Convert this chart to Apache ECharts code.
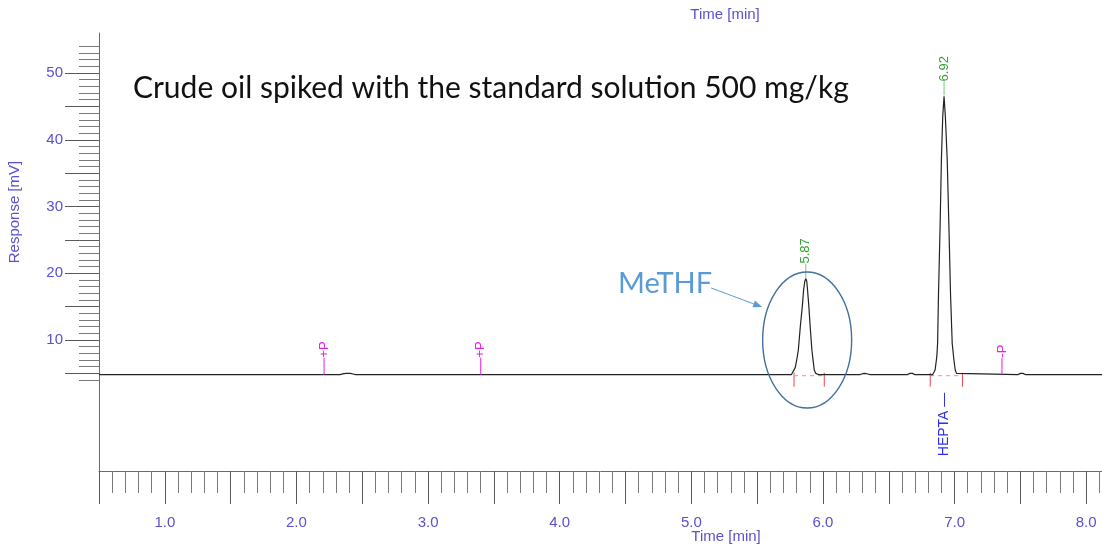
<!DOCTYPE html>
<html>
<head>
<meta charset="utf-8">
<script src="https://cdn.jsdelivr.net/npm/echarts@6/dist/echarts.min.js"></script>
<style>
  html, body { margin: 0; padding: 0; background: #fff; }
  #chart { width: 1102px; height: 550px; }
</style>
</head>
<body>
<div id="chart"></div>
<script>
// Chromatogram trace: retention time [min] and detector response [mV]
const traceTime = [
  0.50, 2.33, 2.36, 2.38, 2.41, 2.43, 2.45,
  5.760, 5.775, 5.790, 5.805, 5.813, 5.828, 5.843, 5.853, 5.862, 5.870, 5.877, 5.883, 5.893, 5.903, 5.916, 5.926, 5.934, 5.945, 5.955, 5.970,
  6.28, 6.30, 6.32, 6.34, 6.36,
  6.64, 6.66, 6.68, 6.70,
  6.833, 6.845, 6.852, 6.865, 6.871, 6.878, 6.890, 6.900, 6.910, 6.920, 6.930, 6.944, 6.957, 6.969, 6.982, 6.995, 7.005, 7.015, 7.028,
  7.48, 7.50, 7.52, 7.54, 8.12
];
const traceResp = [
  4.8, 4.8, 4.95, 5.0, 5.0, 4.9, 4.8,
  4.8, 5.0, 5.9, 7.5, 8.5, 12.0, 15.0, 17.5, 18.8, 19.2, 18.8, 17.5, 15.0, 12.0, 8.5, 6.8, 5.5, 5.0, 4.85, 4.8,
  4.8, 4.95, 5.0, 4.9, 4.8,
  4.8, 5.0, 5.0, 4.8,
  4.8, 5.0, 5.5, 7.5, 9.5, 17.0, 27.0, 37.0, 43.5, 46.5, 43.5, 37.0, 27.0, 17.0, 9.5, 7.0, 5.5, 5.0, 4.8,
  4.8, 5.0, 5.0, 4.8, 4.8
];
const baselineResp = 4.8;

// Integrated peaks
const peakTimes = [5.87, 6.92];
const peakHeights = [19.2, 46.5];
const peakStarts = [5.78, 6.815];
const peakEnds = [6.01, 7.06];

// Identified compound
const compoundTime = 6.92;
const compoundName = 'HEPTA';

// Integration events
const eventTimes = [2.21, 3.40, 7.36];
const eventTags = ['+P', '+P', '-P'];

// Axis ticks and labels
const xRange = [0.5, 8.12];
const yRange = [-9.63, 56.0];
const xLabelValues = [1, 2, 3, 4, 5, 6, 7, 8];
const yLabelValues = [10, 20, 30, 40, 50];
const xMinorTicks = [];
for (let k = 5; k <= 81; k++) xMinorTicks.push(k / 10);
const xMajorTicks = [];
for (let k = 1; k <= 16; k++) xMajorTicks.push(k / 2);
const yMinorTicks = [];
for (let v = 4; v <= 54; v++) yMinorTicks.push(v);
const yMajorTicks = [];
for (let v = 5; v <= 50; v += 5) yMajorTicks.push(v);

const titleText = 'Crude oil spiked with the standard solution 500 mg/kg';
const axisFont = '"Liberation Sans", Arial, sans-serif';
const axisBlue = '#5a50d0';
const axisGrey = '#6a6a6a';

const chart = echarts.init(document.getElementById('chart'), null, { renderer: 'canvas' });

function vText(x, y, text, color, size, align) {
  return {
    type: 'text', x: x, y: y, rotation: Math.PI / 2,
    style: { text: text, fill: color, fontSize: size, fontFamily: axisFont, align: align, verticalAlign: 'middle' }
  };
}

const option = {
  animation: false,
  backgroundColor: '#ffffff',
  grid: { left: 99, right: 0, top: 33, bottom: 79 },
  xAxis: [
    {
      type: 'value', min: xRange[0], max: xRange[1], position: 'bottom',
      axisLine: { show: true, onZero: false, lineStyle: { color: axisGrey, width: 1 } },
      axisTick: { show: true, customValues: xMinorTicks, length: 22, lineStyle: { color: '#7a7a7a' } },
      axisLabel: { show: false },
      splitLine: { show: false }
    },
    {
      type: 'value', min: xRange[0], max: xRange[1], position: 'bottom',
      axisLine: { show: false, onZero: false },
      axisTick: { show: true, customValues: xMajorTicks, length: 33, lineStyle: { color: '#5a5a5a' } },
      axisLabel: {
        show: true, customValues: xLabelValues, margin: 44,
        color: axisBlue, fontSize: 15, fontFamily: axisFont,
        formatter: v => v.toFixed(1)
      },
      splitLine: { show: false }
    }
  ],
  yAxis: [
    {
      type: 'value', min: yRange[0], max: yRange[1], position: 'left',
      axisLine: { show: true, onZero: false, lineStyle: { color: axisGrey, width: 1 } },
      axisTick: { show: true, customValues: yMinorTicks, length: 20, lineStyle: { color: '#7a7a7a' } },
      axisLabel: { show: false },
      splitLine: { show: false }
    },
    {
      type: 'value', min: yRange[0], max: yRange[1], position: 'left',
      axisLine: { show: false, onZero: false },
      axisTick: { show: true, customValues: yMajorTicks, length: 34, lineStyle: { color: '#5a5a5a' } },
      axisLabel: {
        show: true, customValues: yLabelValues, margin: 36,
        color: axisBlue, fontSize: 15, fontFamily: axisFont
      },
      splitLine: { show: false }
    }
  ],
  graphic: [
    {
      type: 'text', left: 133, top: 73,
      style: { text: titleText, fill: '#111111', fontSize: 30, fontFamily: 'Lato, "Open Sans", sans-serif' }
    },
    {
      type: 'text', x: 726, y: 537,
      style: { text: 'Time [min]', fill: axisBlue, fontSize: 15, fontFamily: axisFont, align: 'center', verticalAlign: 'middle' }
    },
    {
      type: 'text', x: 725, y: 15,
      style: { text: 'Time [min]', fill: axisBlue, fontSize: 15, fontFamily: axisFont, align: 'center', verticalAlign: 'middle' }
    },
    {
      type: 'text', x: 15, y: 212, rotation: Math.PI / 2,
      style: { text: 'Response [mV]', fill: axisBlue, fontSize: 15, fontFamily: axisFont, align: 'center', verticalAlign: 'middle' }
    }
  ],
  series: [
    {
      name: 'trace', type: 'line', xAxisIndex: 0, yAxisIndex: 0,
      data: traceTime.map((t, i) => [t, traceResp[i]]),
      showSymbol: false, symbol: 'none',
      lineStyle: { color: '#222222', width: 1.2 },
      z: 5
    },
    {
      // integration start / end ticks and the drawn baseline between them
      name: 'integration', type: 'custom', xAxisIndex: 0, yAxisIndex: 0,
      data: peakStarts.map((s, i) => [s, peakEnds[i], baselineResp]),
      encode: { x: [0, 1], y: 2 },
      renderItem: function (params, api) {
        const a = api.coord([api.value(0), api.value(2)]);
        const b = api.coord([api.value(1), api.value(2)]);
        const red = '#e84848';
        return {
          type: 'group',
          children: [
            { type: 'line', shape: { x1: a[0], y1: a[1] - 2, x2: a[0], y2: a[1] + 12 }, style: { stroke: red, lineWidth: 1 } },
            { type: 'line', shape: { x1: b[0], y1: b[1] - 2, x2: b[0], y2: b[1] + 12 }, style: { stroke: red, lineWidth: 1 } },
            { type: 'line', shape: { x1: a[0], y1: a[1] + 1, x2: b[0], y2: b[1] + 1 }, style: { stroke: '#f08a8a', lineWidth: 1, lineDash: [4, 4] } }
          ]
        };
      },
      z: 4
    },
    {
      // retention time labels above each peak apex
      name: 'peakLabels', type: 'custom', xAxisIndex: 0, yAxisIndex: 0,
      data: peakTimes.map((t, i) => [t, peakHeights[i]]),
      renderItem: function (params, api) {
        const t = api.value(0);
        const p = api.coord([t, api.value(1)]);
        const green = '#35a035';
        return {
          type: 'group',
          children: [
            { type: 'line', shape: { x1: p[0], y1: p[1] - 1, x2: p[0], y2: p[1] - 15 }, style: { stroke: '#7cc27c', lineWidth: 1 } },
            vText(p[0], p[1] - 15, t.toFixed(2), green, 13, 'left')
          ]
        };
      },
      z: 6
    },
    {
      // compound name below its peak
      name: 'compound', type: 'custom', xAxisIndex: 0, yAxisIndex: 0,
      data: [[compoundTime, baselineResp]],
      renderItem: function (params, api) {
        const p = api.coord([api.value(0), api.value(1)]);
        return {
          type: 'group',
          children: [vText(p[0], p[1] + 18, compoundName + ' \u2014', '#2e2ef0', 14, 'right')]
        };
      },
      z: 6
    },
    {
      // integration event markers
      name: 'events', type: 'custom', xAxisIndex: 0, yAxisIndex: 0,
      data: eventTimes.map(t => [t, baselineResp]),
      renderItem: function (params, api) {
        const p = api.coord([api.value(0), api.value(1)]);
        const magenta = '#e81ee8';
        return {
          type: 'group',
          children: [
            { type: 'line', shape: { x1: p[0], y1: p[1], x2: p[0], y2: p[1] - 17 }, style: { stroke: magenta, lineWidth: 1 } },
            vText(p[0], p[1] - 17, eventTags[params.dataIndex], magenta, 13, 'left')
          ]
        };
      },
      z: 6
    },
    {
      // MeTHF call-out around the first peak
      name: 'callout', type: 'custom', xAxisIndex: 0, yAxisIndex: 0,
      data: [[5.88, 10.0]],
      renderItem: function (params, api) {
        const c = api.coord([api.value(0), api.value(1)]);
        const cx = c[0], cy = c[1];
        const x1 = cx - 96, y1 = cy - 52, x2 = cx - 45, y2 = cy - 33;
        const dx = x2 - x1, dy = y2 - y1, len = Math.sqrt(dx * dx + dy * dy);
        const ux = dx / len, uy = dy / len;
        const hl = 9, hw = 3.5;
        const bx = x2 - ux * hl, by = y2 - uy * hl;
        const light = '#5b9bd5';
        return {
          type: 'group',
          children: [
            { type: 'ellipse', shape: { cx: cx, cy: cy, rx: 44.5, ry: 68 }, style: { fill: 'none', stroke: '#41719c', lineWidth: 1.4 } },
            { type: 'line', shape: { x1: x1, y1: y1, x2: bx, y2: by }, style: { stroke: light, lineWidth: 1 } },
            { type: 'polygon', shape: { points: [[x2, y2], [bx - uy * hw, by + ux * hw], [bx + uy * hw, by - ux * hw]] }, style: { fill: light } },
            {
              type: 'text', x: cx - 95, y: cy - 56,
              style: { text: 'MeTHF', fill: light, fontSize: 29, fontFamily: 'Lato, "Open Sans", sans-serif', align: 'right', verticalAlign: 'middle' }
            }
          ]
        };
      },
      z: 7
    }
  ]
};

chart.setOption(option);
</script>
</body>
</html>
